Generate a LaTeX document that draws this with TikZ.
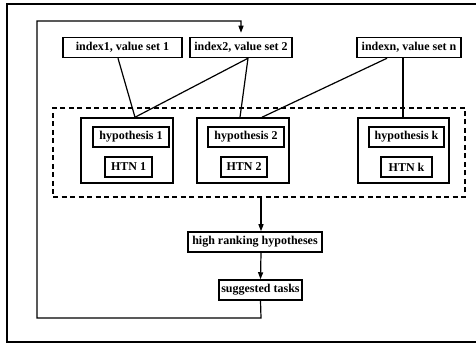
\documentclass[tikz,border=0pt]{standalone}
\usepackage{fontspec}
\setmainfont{Liberation Serif}
\usetikzlibrary{arrows.meta}
\begin{document}
\begin{tikzpicture}[x=1pt,y=-1pt,
  box/.style={draw,line width=1.5pt,inner sep=0pt,minimum height=20pt,
    font=\fontsize{12}{13}\selectfont\bfseries},
  group/.style={draw,line width=1.5pt,inner sep=0pt},
  link/.style={line width=1.2pt},
  flow/.style={line width=1.2pt,-{Triangle[length=7pt,width=5pt]}},
  frame/.style={line width=1.4pt},
  region/.style={draw,line width=1.4pt,dash pattern=on 5pt off 3.5pt}]
\useasboundingbox (0,0) rectangle (476,344);

% outer frame
\draw[frame] (476,4) -- (7,4) -- (7,342) -- (476,342);

% index / value-set inputs
\node[box,minimum width=119pt] (index1) at (122.5,47.5) {index1, value set 1};
\node[box,minimum width=102pt] (index2) at (241,47.5) {index2, value set 2};
\node[box,minimum width=104pt] (indexn) at (409,47.5) {indexn, value set n};

% hypothesis group
\node[region,minimum width=412pt,minimum height=89pt] (pool) at (259,152.5) {};

\node[group,minimum width=92pt,minimum height=65pt] (hyp1) at (127,150.5) {};
\node[box,minimum width=76pt] (h1) at (131,137) {hypothesis 1};
\node[box,minimum width=47pt] (htn1) at (128.5,167) {HTN 1};

\node[group,minimum width=92pt,minimum height=65pt] (hyp2) at (243,150.5) {};
\node[box,minimum width=76pt] (h2) at (246,137) {hypothesis 2};
\node[box,minimum width=46pt] (htn2) at (244,167) {HTN 2};

\node[group,minimum width=91pt,minimum height=65pt] (hypk) at (403.5,150.5) {};
\node[box,minimum width=75pt] (hk) at (406.5,137) {hypothesis k};
\node[box,minimum width=51pt] (htnk) at (406.5,167) {HTN k};

% ranking and tasks
\node[box,minimum width=134pt] (rank) at (255,242) {high ranking hypotheses};
\node[box,minimum width=83pt] (tasks) at (260.5,290) {suggested tasks};

% index links
\draw[link] ([xshift=-4.5pt]index1.south) -- ([xshift=8pt]hyp1.north);
\draw[link] ([xshift=7pt]index2.south) -- ([xshift=8pt]hyp1.north);
\draw[link] ([xshift=7pt]index2.south) -- ([xshift=-3pt]hyp2.north);
\draw[link] ([xshift=-22pt]indexn.south) -- ([xshift=19pt]hyp2.north);
\draw[link] ([xshift=-6pt]indexn.south) -- ([xshift=-0.5pt]hypk.north);

% downward flow
\draw[flow] ([xshift=2pt]pool.south) -- (rank.north -| 261,0);
\draw[flow] (rank.south -| 261,0) -- (tasks.north);

% feedback loop
\coordinate (c1) at (261,318);
\coordinate (c2) at (37,318);
\coordinate (c3) at (37,21);
\coordinate (c4) at (241,21);
\draw[flow,shorten >=4pt] (tasks.south) -- (c1) -- (c2) -- (c3) -- (c4) -- (index2.north);
\end{tikzpicture}
\end{document}
